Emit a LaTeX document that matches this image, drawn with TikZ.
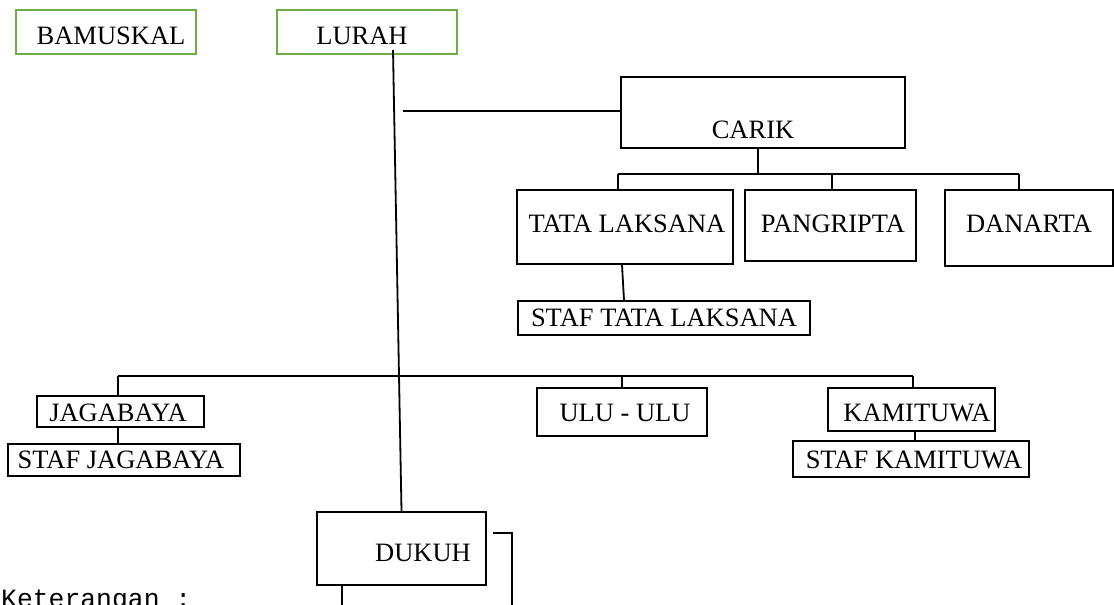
\documentclass[tikz,border=0pt]{standalone}
\usepackage{fontspec}
\setmainfont{Liberation Serif}
\newfontfamily\ketfont{Liberation Mono}
\definecolor{boxgreen}{RGB}{112,173,71}
\begin{document}
\begin{tikzpicture}[x=1pt,y=-1pt,
  box/.style={draw=black, line width=1.8pt, inner sep=0pt},
  gbox/.style={draw=boxgreen, line width=2.4pt, inner sep=0pt},
  lbl/.style={inner sep=0pt, text height=18pt, text depth=0pt, font=\fontsize{26.5}{30}\selectfont},
  ln/.style={draw=black, line width=1.8pt}]
\useasboundingbox (0,0) rectangle (1114,605);

% boxes
\node[gbox, minimum width=180pt, minimum height=44pt] (bamuskal) at (106,32) {};
\node[gbox, minimum width=180pt, minimum height=44pt] (lurah) at (367,32) {};
\node[box, minimum width=284pt, minimum height=71pt] (carik) at (763,112.5) {};
\node[box, minimum width=216pt, minimum height=74pt] (tata) at (625,227) {};
\node[box, minimum width=171pt, minimum height=71pt] (pangripta) at (830.5,225.5) {};
\node[box, minimum width=168pt, minimum height=76pt] (danarta) at (1029,228) {};
\node[box, minimum width=292pt, minimum height=34pt] (staftata) at (664,318) {};
\node[box, minimum width=167pt, minimum height=31pt] (jagabaya) at (120.5,411.5) {};
\node[box, minimum width=232pt, minimum height=32pt] (stafjag) at (124,460) {};
\node[box, minimum width=170pt, minimum height=48pt] (ulu) at (622,412) {};
\node[box, minimum width=167pt, minimum height=43pt] (kamituwa) at (911.5,409.5) {};
\node[box, minimum width=236pt, minimum height=36pt] (stafkam) at (911,459) {};
\node[box, minimum width=169pt, minimum height=73pt] (dukuh) at (401.5,548.5) {};

% labels
\node[lbl] (t-bamuskal) at (111,35) {BAMUSKAL};
\node[lbl] (t-lurah) at (362,35) {LURAH};
\node[lbl] (t-carik) at (753,129) {CARIK};
\node[lbl] (t-tata) at (627,223) {TATA LAKSANA};
\node[lbl] (t-pangripta) at (833,223) {PANGRIPTA};
\node[lbl] (t-danarta) at (1029,223) {DANARTA};
\node[lbl] (t-staftata) at (664,317) {STAF TATA LAKSANA};
\node[lbl] (t-jagabaya) at (118,412) {JAGABAYA};
\node[lbl] (t-stafjag) at (121,459) {STAF JAGABAYA};
\node[lbl] (t-ulu) at (625,412) {ULU - ULU};
\node[lbl] (t-kamituwa) at (917,412) {KAMITUWA};
\node[lbl] (t-stafkam) at (914,459) {STAF KAMITUWA};
\node[lbl] (t-dukuh) at (423,552) {DUKUH};
\node[inner sep=0pt, anchor=base west, font=\ketfont\fontsize{26.4}{30}\selectfont] (ket) at (1,607) {Keterangan :};

% coordinates
\coordinate (lt) at (393,50);
\coordinate (ct) at (403,111);
\coordinate (cbar) at (758,174);
\coordinate (cbl) at (618,174);
\coordinate (cbm) at (832,174);
\coordinate (cbr) at (1019,174);
\coordinate (bl) at (118,376);
\coordinate (bm) at (622,376);
\coordinate (br) at (913,376);
\coordinate (dk) at (493,533);
\coordinate (dke) at (512,612);
\coordinate (dkb) at (342,612);

% connectors
\draw[ln] (lt) -- (dukuh.north);
\draw[ln] (ct) -- (ct -| carik.west);
\draw[ln] (carik.south -| cbar) -- (cbar);
\draw[ln] (cbl) -- (cbr);
\draw[ln] (cbl) -- (cbl |- tata.north);
\draw[ln] (cbm) -- (cbm |- pangripta.north);
\draw[ln] (cbr) -- (cbr |- danarta.north);
\draw[ln] ([xshift=-3pt]tata.south) -- ([xshift=-40pt]staftata.north);
\draw[ln] (bl) -- (br);
\draw[ln] (bl) -- (bl |- jagabaya.north);
\draw[ln] (bm) -- (bm |- ulu.north);
\draw[ln] (br) -- (br |- kamituwa.north);
\draw[ln] (jagabaya.south -| bl) -- (stafjag.north -| bl);
\draw[ln] ([xshift=3.5pt]kamituwa.south) -- ([xshift=4pt]stafkam.north);
\draw[ln] (dk) -- (dk -| dke) -- (dke);
\draw[ln] (dukuh.south -| dkb) -- (dkb);
\end{tikzpicture}
\end{document}
